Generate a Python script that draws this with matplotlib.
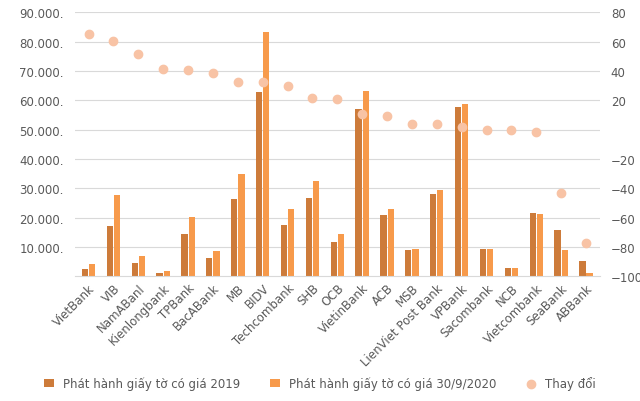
import numpy as np
import matplotlib
matplotlib.use("Agg")
import matplotlib.pyplot as plt

banks = ["VietBank", "VIB", "NamABanl", "Kienlongbank", "TPBank", "BacABank", "MB", "BIDV",
         "Techcombank", "SHB", "OCB", "VietinBank", "ACB", "MSB", "LienViet Post Bank",
         "VPBank", "Sacombank", "NCB", "Vietcombank", "SeaBank", "ABBank"]
issued_2019 = [2400, 17000, 4400, 1000, 14300, 6100, 26200, 62700, 17400, 26600, 11600,
               56900, 20800, 8900, 28000, 57600, 9500, 2700, 21500, 15700, 5100]
issued_2020 = [4100, 27600, 6800, 1700, 20100, 8500, 34800, 83200, 22800, 32400, 14300,
               63100, 22800, 9200, 29300, 58600, 9500, 2700, 21100, 8900, 1000]
change = [65.5, 60.7, 51.8, 41.6, 40.9, 38.9, 32.7, 32.7, 29.8, 21.8, 20.9,
          10.9, 9.5, 3.9, 3.9, 2.0, 0.0, 0.0, -1.6, -43, -77]

left_ticks = [10000, 20000, 30000, 40000, 50000, 60000, 70000, 80000, 90000]
left_labels = ["10.000.", "20.000.", "30.000.", "40.000.", "50.000.", "60.000.",
               "70.000.", "80.000.", "90.000."]
right_ticks = [-100, -80, -60, -40, -20, 20, 40, 60, 80]

dark = "#CD7B3A"
light = "#F79A4B"
dot = "#F8C3A5"
txt = "#595959"

fig = plt.figure(figsize=(6.4, 4.02), dpi=100)
ax = fig.add_axes([0.117, 0.31, 0.82, 0.657])
x = np.arange(len(banks))
w = 0.25
ax.bar(x - w / 2 - 0.02, issued_2019, w, color=dark, label="Phát hành giấy tờ có giá 2019", zorder=2)
ax.bar(x + w / 2 + 0.02, issued_2020, w, color=light, label="Phát hành giấy tờ có giá 30/9/2020", zorder=2)
ax.set_ylim(0, 90000)
ax.set_xlim(-0.55, len(banks) - 0.45)
ax.set_yticks(left_ticks)
ax.set_yticklabels(left_labels)
ax.grid(axis="y", color="#d9d9d9", lw=0.8, zorder=0)
ax.set_xticks(x)
ax.set_xticklabels(banks, rotation=45, ha="right", rotation_mode="anchor")
ax.tick_params(length=0, colors=txt, labelsize=8.5)
ax.tick_params(axis="y", pad=8)
for s in ax.spines.values():
    s.set_visible(False)
ax.spines["bottom"].set_visible(True)
ax.spines["bottom"].set_color("#d9d9d9")

ax2 = ax.twinx()
ax2.scatter(x, change, s=36, color=dot, label="Thay đổi", zorder=3)
ax2.set_ylim(-100, 80)
ax2.set_yticks(right_ticks)
ax2.tick_params(length=0, colors=txt, labelsize=8.5, pad=8)
for s in ax2.spines.values():
    s.set_visible(False)

h1, l1 = ax.get_legend_handles_labels()
h2, l2 = ax2.get_legend_handles_labels()
fig.legend(h1 + h2, l1 + l2, loc="lower center", ncol=3, frameon=False,
           fontsize=8.5, labelcolor=txt, bbox_to_anchor=(0.5, 0.0), handlelength=0.8,
           columnspacing=2.5)
fig.savefig("out.png", dpi=100)
